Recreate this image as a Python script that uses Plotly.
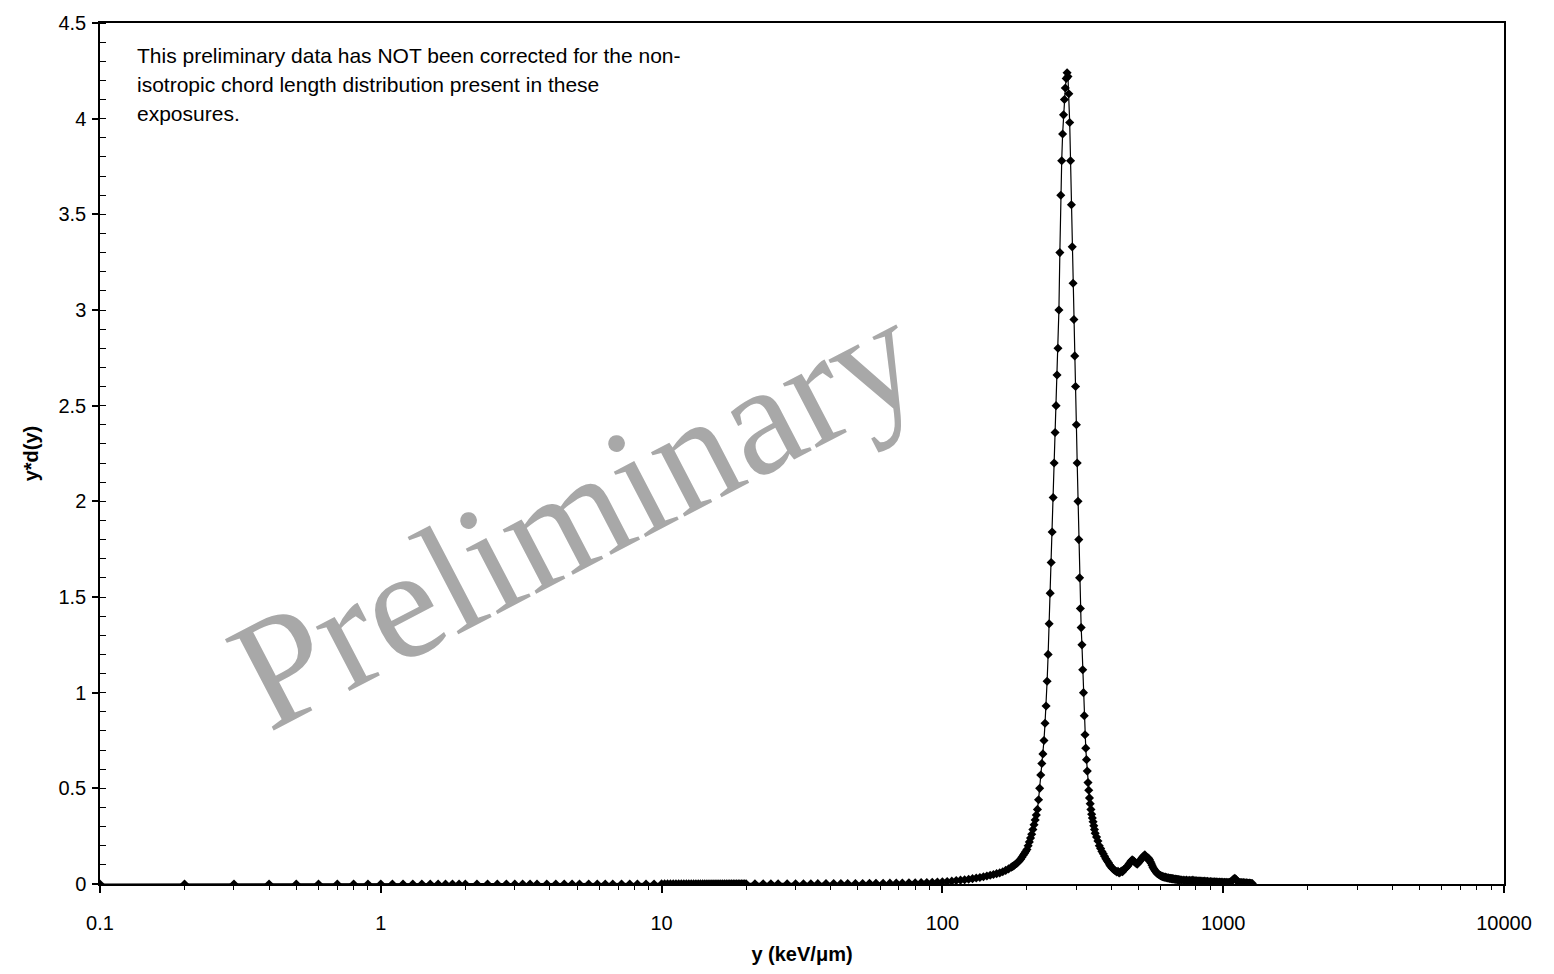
import plotly.graph_objects as go

# ---------------- data ----------------
x_low = [0.1, 0.2, 0.3, 0.4, 0.5, 0.6, 0.7, 0.8, 0.9, 1.0]
y_low = [0.0, 0.0, 0.0, 0.0, 0.0, 0.0, 0.0, 0.0, 0.0, 0.0]

x_sub = [1.1, 1.2, 1.3, 1.4, 1.5, 1.6, 1.7, 1.8, 1.9, 2.0,
         2.2, 2.4, 2.6, 2.8, 3.0, 3.2, 3.4, 3.6, 3.9, 4.2,
         4.5, 4.8, 5.1, 5.5, 5.9, 6.3, 6.7, 7.2, 7.7, 8.2,
         8.8, 9.4]
y_sub = [0.0, 0.0, 0.0, 0.0, 0.0, 0.0, 0.0, 0.0, 0.0, 0.0,
         0.0, 0.0, 0.0, 0.0, 0.0, 0.0, 0.0, 0.0, 0.0, 0.0,
         0.0, 0.0, 0.0, 0.0, 0.0, 0.0, 0.0, 0.0, 0.0, 0.0,
         0.0, 0.0]

x_dense = [10.0, 10.25, 10.5, 10.75, 11.0, 11.25, 11.5, 11.75, 12.0, 12.25,
           12.5, 12.75, 13.0, 13.25, 13.5, 13.75, 14.0, 14.25, 14.5, 14.75,
           15.0, 15.25, 15.5, 15.75, 16.0, 16.25, 16.5, 16.75, 17.0, 17.25,
           17.5, 17.75, 18.0, 18.25, 18.5, 18.75, 19.0, 19.25, 19.5, 19.75,
           20.0]
y_dense = [0.0005, 0.0005, 0.0005, 0.0005, 0.0005, 0.0005, 0.0005, 0.0005, 0.0005, 0.0005,
           0.0005, 0.0005, 0.0005, 0.0005, 0.0005, 0.0005, 0.0005, 0.0005, 0.0005, 0.0005,
           0.0006, 0.0006, 0.0006, 0.0006, 0.0006, 0.0006, 0.0006, 0.0006, 0.0006, 0.0006,
           0.0007, 0.0007, 0.0007, 0.0007, 0.0007, 0.0007, 0.0008, 0.0008, 0.0008, 0.0008,
           0.0008]

x_mid = [21.5, 23, 24.5, 26, 28, 30, 32, 34, 36, 38.5,
         41, 43.5, 46, 49, 52, 55, 58, 61.5, 65, 68.5,
         72, 76, 80, 84, 88, 92, 96]
y_mid = [0.001, 0.001, 0.001, 0.0012, 0.0013, 0.0014, 0.0015, 0.0016, 0.0018, 0.002,
         0.0021, 0.0023, 0.0025, 0.0028, 0.003, 0.0033, 0.0036, 0.004, 0.0044, 0.0049,
         0.0055, 0.006, 0.0066, 0.0073, 0.008, 0.009, 0.0105]

x_rise = [100, 104, 108, 112, 116, 120, 124, 128, 132, 136,
          140, 144, 148, 152, 156, 160, 164, 168, 172, 176]
y_rise = [0.012, 0.013, 0.015, 0.018, 0.020, 0.022, 0.025, 0.028, 0.031, 0.034,
          0.038, 0.042, 0.046, 0.050, 0.054, 0.058, 0.064, 0.071, 0.079, 0.088]

x_peak = [178, 180, 182, 184, 186, 188, 190, 192, 194, 196, 198, 200,
          202, 204, 206, 208, 210, 212, 214, 216, 218, 220,
          222, 224, 226, 228, 230, 232, 234, 236, 238, 240,
          242, 244, 246, 248, 250, 252, 254, 256, 258, 260,
          262, 264, 266, 268, 270, 272, 274, 276, 278, 280,
          282, 284, 286, 288, 290, 292, 294, 296, 298, 300,
          302, 304, 306, 308, 310, 312, 314, 316, 318, 320,
          322, 324, 326, 328, 330, 332, 334, 336, 338, 340,
          342, 344, 346, 348, 350]
y_peak = [0.092, 0.097, 0.103, 0.108, 0.115, 0.122, 0.130, 0.140, 0.150, 0.160, 0.170, 0.180,
          0.200, 0.220, 0.240, 0.260, 0.285, 0.310, 0.335, 0.360, 0.390, 0.440,
          0.500, 0.570, 0.630, 0.680, 0.750, 0.840, 0.930, 1.060, 1.200, 1.360,
          1.520, 1.680, 1.840, 2.020, 2.200, 2.360, 2.500, 2.660, 2.800, 3.000,
          3.300, 3.600, 3.780, 3.920, 4.020, 4.100, 4.160, 4.210, 4.240, 4.220,
          4.130, 3.980, 3.780, 3.550, 3.330, 3.140, 2.950, 2.760, 2.600, 2.400,
          2.200, 2.000, 1.800, 1.600, 1.440, 1.340, 1.250, 1.120, 1.000, 0.880,
          0.780, 0.710, 0.650, 0.590, 0.530, 0.490, 0.450, 0.420, 0.390, 0.365,
          0.345, 0.325, 0.305, 0.285, 0.265]

x_bump = [354, 358, 362, 366, 370, 374, 378, 382, 386, 390,
          394, 398, 402, 406, 410, 414, 418, 422, 426, 430,
          434, 438, 442, 446, 450, 454, 458, 462, 466, 470,
          474, 478, 482, 486, 490, 494, 498, 502, 506, 510,
          514, 518, 522, 526, 530, 534, 538, 542, 546, 550,
          554, 558, 562, 566, 570, 574, 578, 582, 586, 590,
          594, 598, 602, 606, 610, 614, 618, 622, 626, 630,
          634, 638, 642, 646, 650, 654, 658, 662, 666, 670,
          674, 678, 682, 686, 690, 694, 698, 702]
y_bump = [0.245, 0.225, 0.200, 0.185, 0.170, 0.158, 0.145, 0.132, 0.122, 0.112,
          0.100, 0.092, 0.084, 0.078, 0.072, 0.068, 0.063, 0.066, 0.058, 0.062,
          0.068, 0.064, 0.074, 0.078, 0.084, 0.090, 0.096, 0.104, 0.112, 0.120,
          0.126, 0.122, 0.118, 0.112, 0.108, 0.104, 0.110, 0.116, 0.122, 0.130,
          0.136, 0.142, 0.148, 0.152, 0.145, 0.138, 0.130, 0.135, 0.128, 0.118,
          0.108, 0.098, 0.088, 0.080, 0.073, 0.066, 0.060, 0.055, 0.052, 0.050,
          0.047, 0.044, 0.042, 0.040, 0.038, 0.037, 0.035, 0.036, 0.034, 0.033,
          0.031, 0.032, 0.030, 0.029, 0.030, 0.028, 0.027, 0.028, 0.026, 0.025,
          0.026, 0.024, 0.025, 0.023, 0.022, 0.023, 0.021, 0.022]

x_tail = [710, 720, 730, 740, 750, 760, 770, 780, 790, 800,
          810, 820, 830, 840, 850, 860, 870, 880, 890, 900,
          910, 920, 930, 940, 950, 960, 970, 980, 990, 1000,
          1010, 1020, 1030, 1040, 1050, 1060, 1070, 1080, 1090, 1100,
          1110, 1120, 1130, 1140, 1150, 1160, 1170, 1180, 1190, 1200,
          1210, 1220, 1230, 1240, 1250, 1260, 1270]
y_tail = [0.021, 0.020, 0.019, 0.020, 0.018, 0.019, 0.018, 0.020, 0.017, 0.018,
          0.016, 0.017, 0.015, 0.016, 0.014, 0.015, 0.013, 0.014, 0.012, 0.013,
          0.012, 0.011, 0.012, 0.010, 0.011, 0.009, 0.010, 0.009, 0.010, 0.008,
          0.009, 0.008, 0.009, 0.008, 0.009, 0.010, 0.013, 0.020, 0.026, 0.030,
          0.024, 0.016, 0.010, 0.008, 0.007, 0.008, 0.006, 0.007, 0.006, 0.005,
          0.006, 0.005, 0.004, 0.005, 0.004, 0.003, 0.003]

x_tickvals = [0.1, 1, 10, 100, 1000, 10000]
x_ticktext = ["0.1", "1", "10", "100", "1000", "10000"]

note_lines = ["This preliminary data has NOT been corrected for the non-",
              "isotropic chord length distribution present in these",
              "exposures."]

# ---------------- assemble ----------------
segments = [(x_low, y_low), (x_sub, y_sub), (x_dense, y_dense), (x_mid, y_mid),
            (x_rise, y_rise), (x_peak, y_peak), (x_bump, y_bump), (x_tail, y_tail)]
xs, ys = [], []
for sx, sy in segments:
    assert len(sx) == len(sy), (len(sx), len(sy))
    xs += list(sx)
    ys += list(sy)

FONT = "Liberation Sans, Arial, sans-serif"

fig = go.Figure()
fig.add_trace(go.Scatter(
    x=xs, y=ys, mode="lines+markers",
    line=dict(color="black", width=1.2),
    marker=dict(symbol="diamond", size=7, color="black"),
    showlegend=False, hoverinfo="x+y",
))

minor_x = []
for dec in [0.1, 1, 10, 100, 1000]:
    for m in range(2, 10):
        minor_x.append(m * dec)

fig.update_layout(
    width=1554, height=974,
    margin=dict(l=100, r=50, t=18, b=90),
    paper_bgcolor="white", plot_bgcolor="white",
    font=dict(family=FONT, size=20, color="black"),
    xaxis=dict(
        type="log", range=[-1, 4],
        tickmode="array", tickvals=x_tickvals, ticktext=x_ticktext,
        ticks="outside", ticklen=7, tickwidth=1.5, tickcolor="black",
        minor=dict(tickmode="array", tickvals=minor_x, ticks="outside",
                   ticklen=4, tickwidth=1.2, tickcolor="black", showgrid=False),
        showline=True, linecolor="black", linewidth=1.5, mirror=True,
        showgrid=False, zeroline=False,
        ticklabelstandoff=13,
        tickfont=dict(family=FONT, size=20),
        title=dict(text="<b>y (keV/μm)</b>", font=dict(family=FONT, size=20),
                   standoff=14),
    ),
    yaxis=dict(
        range=[0, 4.5], tick0=0, dtick=0.5,
        ticks="outside", ticklen=6, tickwidth=1.5, tickcolor="black",
        minor=dict(dtick=0.1, ticks="inside", ticklen=6, tickwidth=1.2,
                   tickcolor="black", showgrid=False),
        showline=True, linecolor="black", linewidth=1.5, mirror=True,
        showgrid=False, zeroline=False,
        ticklabelstandoff=2,
        tickfont=dict(family=FONT, size=20),
        title=dict(text="<b>y*d(y)</b>", font=dict(family=FONT, size=20),
                   standoff=14),
    ),
)

for line, py in zip(note_lines, [0.962, 0.928, 0.895]):
    fig.add_annotation(
        text=line, xref="paper", yref="paper", x=0.025, y=py,
        xanchor="left", yanchor="middle", showarrow=False,
        font=dict(family=FONT, size=21, color="black"),
    )

fig.add_annotation(
    text="Preliminary", xref="paper", yref="paper", x=0.338, y=0.43,
    xanchor="center", yanchor="middle", showarrow=False, textangle=-27.5,
    font=dict(family="Liberation Serif, Times New Roman, serif", size=158,
              color="#A8A8A8"),
)

fig.write_html("out.html")
